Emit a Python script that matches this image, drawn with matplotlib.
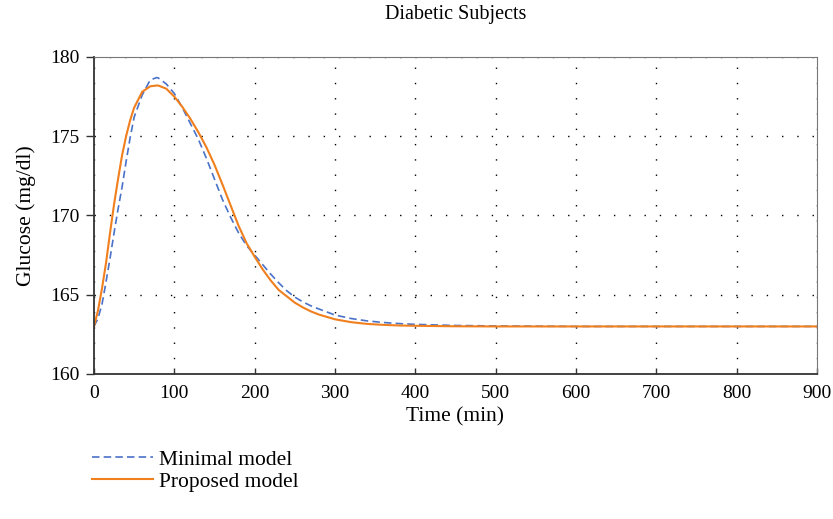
import matplotlib
matplotlib.use("Agg")
import matplotlib.pyplot as plt

plt.rcParams['font.family'] = ['Liberation Serif', 'DejaVu Serif']

# values
t_min = [0, 5, 10, 15, 20, 25, 30, 35, 40, 45, 50, 60, 70, 78, 80, 90, 100, 110,
         120, 130, 140, 150, 160, 170, 180, 190, 200, 210, 220, 230, 240, 250,
         260, 270, 280, 300, 320, 340, 360, 380, 400, 450, 500, 600, 700, 800, 900]
minimal = [163.0, 163.5, 164.4, 165.8, 167.3, 168.9, 170.4, 171.8, 173.4, 174.9,
           176.2, 177.6, 178.55, 178.7, 178.68, 178.3, 177.7, 176.8,
           175.8, 174.8, 173.6, 172.3, 171.0, 169.9, 168.9, 168.1, 167.5, 166.9,
           166.3, 165.75, 165.25, 164.85, 164.55, 164.3, 164.1, 163.72, 163.5,
           163.35, 163.25, 163.18, 163.13, 163.06, 163.03, 163.0, 163.0, 163.0, 163.0]
proposed = [163.0, 164.0, 165.4, 167.0, 168.9, 170.7, 172.3, 173.8, 175.0, 176.0,
            176.8, 177.8, 178.15, 178.2, 178.2, 178.0, 177.5, 176.85,
            176.1, 175.25, 174.3, 173.2, 171.95, 170.65, 169.35, 168.25, 167.4, 166.6,
            165.9, 165.3, 164.9, 164.5, 164.2, 163.95, 163.75, 163.45, 163.27,
            163.16, 163.1, 163.06, 163.04, 163.01, 163.0, 163.0, 163.0, 163.0, 163.0]

x_ticks = [0, 100, 200, 300, 400, 500, 600, 700, 800, 900]
y_ticks = [160, 165, 170, 175, 180]

fig = plt.figure(figsize=(8.33, 5.19), dpi=100)
ax = fig.add_axes([0.1128, 0.2794, 0.8680, 0.6108])

ax.plot(t_min, minimal, linestyle=(0, (4.5, 2.5)), color='#4a72c8', lw=1.2,
        label='Minimal model')
ax.plot(t_min, proposed, color='#f07f1e', lw=1.5, label='Proposed model')

ax.set_xlim(0, 900)
ax.set_ylim(160, 180)
ax.set_xticks(x_ticks)
ax.set_yticks(y_ticks)
ax.grid(True, linestyle=(0, (1, 10)), color='black', lw=1.0)
ax.tick_params(labelsize=14, width=1, color='#333333')
ax.tick_params(axis='x', direction='in', length=4, pad=8, top=False)
ax.tick_params(axis='y', direction='out', length=5.5, pad=5)
for s in ['left', 'bottom']:
    ax.spines[s].set_color('#333333')
    ax.spines[s].set_linewidth(1.3)
for s in ['top', 'right']:
    ax.spines[s].set_color('#777777')
    ax.spines[s].set_linewidth(0.8)

ax.set_xlabel('Time (min)', fontsize=15.5, labelpad=4)
ax.set_ylabel('Glucose (mg/dl)', fontsize=15.5, labelpad=10)
ax.set_title('Diabetic Subjects', fontsize=14.5, pad=27)

fig.legend(loc='upper left', bbox_to_anchor=(0.111, 0.134), frameon=False,
           fontsize=15.5, handlelength=2.8, handletextpad=0.3, labelspacing=0.1,
           borderaxespad=0, borderpad=0)

plt.savefig('out.png', dpi=100)
